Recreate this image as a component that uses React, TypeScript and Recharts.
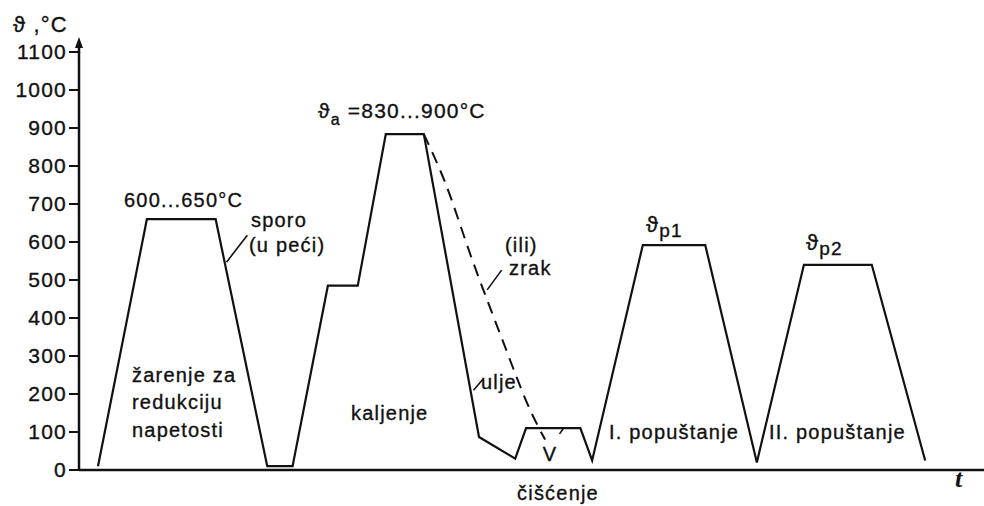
import { LineChart, Line, XAxis, YAxis, ReferenceLine } from 'recharts';

// temperature axis ticks, °C
const yTicks = [0, 100, 200, 300, 400, 500, 600, 700, 800, 900, 1000, 1100];

// main heat-treatment path: time (arbitrary units) and temperature (°C)
const processTime = [2.1, 7.5, 15.1, 20.8, 23.6, 27.5, 30.8, 33.9, 38.1, 44.2, 48.2, 49.4, 55.4, 56.7, 62.3, 69.2, 74.9, 80.1, 87.6, 93.5];
const processTemp = [10, 660, 660, 10, 10, 485, 485, 884, 884, 87, 30, 110, 110, 25, 592, 592, 20, 540, 540, 25];

// alternative air cooling (dashed)
const airTime = [38.1, 40.4, 43.5, 46.5, 50.2, 51.5];
const airTemp = [884, 760, 550, 360, 140, 80];

// leader lines for the labels
const sporoLeader = [{ x: 18.6, y: 618 }, { x: 16.3, y: 547 }];
const zrakLeader = [{ x: 46.7, y: 526 }, { x: 45.1, y: 474 }];
const uljeLeader = [{ x: 44.6, y: 238 }, { x: 43.6, y: 210 }];
const vLeader = [{ x: 53.6, y: 112 }, { x: 53.1, y: 95 }];

const processData = processTime.map((t, i) => ({ t, temp: processTemp[i] }));
const airData = airTime.map((t, i) => ({ t, temp: airTemp[i] }));

const FONT = '"Liberation Sans", Arial, sans-serif';
const txt = {
  fontFamily: FONT,
  fontSize: 20,
  fill: '#111',
  stroke: '#111',
  strokeWidth: 0.35,
  letterSpacing: 1.2,
} as const;

export default function App() {
  return (
    <div style={{ position: 'absolute', left: 0, top: 0, width: 984, height: 506, background: '#fff' }}>
      <LineChart width={984} height={506} margin={{ top: 52, right: 0, bottom: 16, left: 0 }}>
        <XAxis
          type="number"
          dataKey="t"
          domain={[0, 100]}
          tick={false}
          tickLine={false}
          height={20}
          axisLine={{ stroke: '#111', strokeWidth: 2.5 }}
        />
        <YAxis
          type="number"
          domain={[0, 1100]}
          ticks={yTicks}
          width={79}
          tickSize={10}
          tickMargin={2}
          interval={0}
          axisLine={{ stroke: '#111', strokeWidth: 2.5 }}
          tickLine={{ stroke: '#111', strokeWidth: 2 }}
          tick={{ fontFamily: FONT, fontSize: 21, fill: '#111', stroke: '#111', strokeWidth: 0.35, letterSpacing: 1.2 }}
        />
        <Line
          data={processData}
          dataKey="temp"
          type="linear"
          stroke="#111"
          strokeWidth={2.2}
          dot={false}
          isAnimationActive={false}
        />
        <Line
          data={airData}
          dataKey="temp"
          type="monotone"
          stroke="#111"
          strokeWidth={2}
          strokeDasharray="12 8"
          dot={false}
          isAnimationActive={false}
        />
        <ReferenceLine segment={sporoLeader} stroke="#111" strokeWidth={1.6} />
        <ReferenceLine segment={zrakLeader} stroke="#111" strokeWidth={1.6} />
        <ReferenceLine segment={uljeLeader} stroke="#111" strokeWidth={1.6} />
        <ReferenceLine segment={vLeader} stroke="#111" strokeWidth={1.6} />
      </LineChart>
      <svg width={984} height={506} style={{ position: 'absolute', left: 0, top: 0, pointerEvents: 'none' }}>
        {/* y axis arrow */}
        <line x1={79} y1={53} x2={79} y2={42} stroke="#111" strokeWidth={2.5} />
        <path d="M75,48 L79,37 L83,48 Z" fill="#111" />

        <text x={13} y={32} {...txt} fontSize={22}>ϑ ,°C</text>
        <text x={124} y={207} {...txt}>600...650°C</text>
        <text x={251} y={227} {...txt}>sporo</text>
        <text x={249} y={252} {...txt}>(u peći)</text>
        <text x={318} y={118} {...txt} fontSize={21}>
          ϑ<tspan fontSize={16} dy={7}>a</tspan>
          <tspan dy={-7}> =830...900°C</tspan>
        </text>
        <text x={505} y={252} {...txt}>(ili)</text>
        <text x={509} y={275} {...txt}>zrak</text>
        <text x={481} y={389} {...txt}>ulje</text>
        <text x={351} y={420} {...txt}>kaljenje</text>
        <text x={132} y={382} {...txt}>žarenje za</text>
        <text x={132} y={409} {...txt}>redukciju</text>
        <text x={132} y={437} {...txt}>napetosti</text>
        <text x={550} y={461} {...txt} textAnchor="middle">V</text>
        <text x={558} y={500} {...txt} textAnchor="middle">čišćenje</text>
        <text x={609} y={439} {...txt}>I. popuštanje</text>
        <text x={769} y={439} {...txt}>II. popuštanje</text>
        <text x={646} y={232} {...txt} fontSize={22}>
          ϑ<tspan fontSize={19} dy={5}>p1</tspan>
        </text>
        <text x={806} y={250} {...txt} fontSize={22}>
          ϑ<tspan fontSize={19} dy={5}>p2</tspan>
        </text>
        <text x={955} y={487} fontFamily='"Liberation Serif", serif' fontStyle="italic" fontWeight="bold" fontSize={26} fill="#111">t</text>
      </svg>
    </div>
  );
}
